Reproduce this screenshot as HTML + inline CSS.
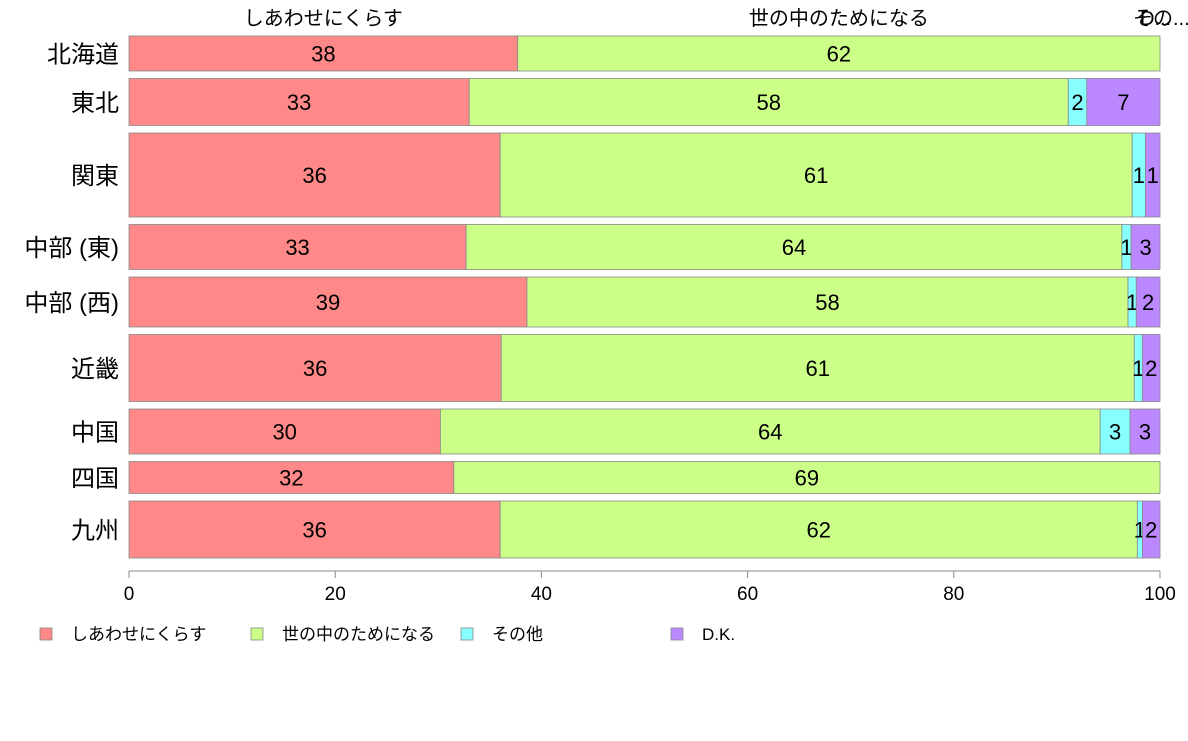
<!DOCTYPE html>
<html><head><meta charset="utf-8"><style>
body{margin:0;background:#fff;}
svg text{font-family:"Liberation Sans","Noto Sans CJK JP",sans-serif;}
</style></head><body>
<svg id="chart" width="1188" height="736" xmlns="http://www.w3.org/2000/svg"></svg>
<script>
const regions=["北海道","東北","関東","中部 (東)","中部 (西)","近畿","中国","四国","九州"];
const weights=[35,47,84,45,50,67,45,32,57];
const happy=[37.7,33.0,36.0,32.7,38.6,36.1,30.2,31.5,36.0];
const society=[62.3,58.1,61.3,63.6,58.3,61.4,64.0,68.5,61.8];
const other=[0,1.8,1.3,0.9,0.8,0.8,2.9,0,0.5];
const dk=[0,7.1,1.4,2.8,2.3,1.7,2.9,0,1.7];
const seriesNames=["しあわせにくらす","世の中のためになる","その他","D.K."];
const xTicks=[0,20,40,60,80,100];
const colors=["#FF8888","#CCFF88","#88FFFF","#BB88FF"];
const series=[happy,society,other,dk];
const NS="http://www.w3.org/2000/svg";
const svg=document.getElementById('chart');
function mk(tag,attrs,txt){const e=document.createElementNS(NS,tag);for(const k in attrs)e.setAttribute(k,attrs[k]);if(txt!==undefined)e.textContent=txt;svg.appendChild(e);return e;}
const x0=129,x1=1160,yTop=36,yBot=558,gap=7.5;
const xs=v=>x0+(x1-x0)*v/100;
const totalW=weights.reduce((a,b)=>a+b,0);
const unit=(yBot-yTop-gap*(weights.length-1))/totalW;
let y=yTop;
regions.forEach((r,i)=>{
  const h=weights[i]*unit;
  let c=0;
  series.forEach((s,j)=>{
    const v=s[i];
    if(v>0){
      const rc=mk('rect',{x:xs(c),y:y,width:xs(c+v)-xs(c),height:h,fill:colors[j],stroke:"#888",'stroke-width':0.8});
      
      
      const t=mk('text',{x:(xs(c)+xs(c+v))/2,y:y+h/2+8,'text-anchor':'middle','font-size':22,fill:'#000'},Math.round(v));
      
      
    }
    c+=v;
  });
  const lb=mk('text',{x:119,y:y+h/2+9,'text-anchor':'end','font-size':24,fill:'#000'},r);
  
  
  y+=h+gap;
});
// top labels
const topPos=[(xs(0)+xs(happy[0]))/2,(xs(happy[0])+xs(100))/2];
const tl1=mk('text',{x:topPos[0],y:25,'text-anchor':'middle','font-size':20},seriesNames[0]);

const tl2=mk('text',{x:topPos[1],y:25,'text-anchor':'middle','font-size':20},seriesNames[1]);

const tl3=mk('text',{x:1133,y:25,'font-size':20},"その...");

const tl4=mk('text',{x:1140,y:25,'font-size':20},"D...");

// axis
const ax=mk('line',{x1:x0,y1:571,x2:x1,y2:571,stroke:'#888','stroke-width':1});

xTicks.forEach(t=>{
  const tk=mk('line',{x1:xs(t),y1:571,x2:xs(t),y2:578,stroke:'#888'});
  
  const tt=mk('text',{x:xs(t),y:600,'text-anchor':'middle','font-size':19},t);
  
});
// legend
const legX=[40,251,461,671];
seriesNames.forEach((n,j)=>{
  const g=mk('rect',{x:legX[j],y:628,width:12,height:12,fill:colors[j],stroke:'#888','stroke-width':0.8});
  
  const t=mk('text',{x:legX[j]+31,y:640,'font-size':17},n);
  
});
</script>
</body></html>
